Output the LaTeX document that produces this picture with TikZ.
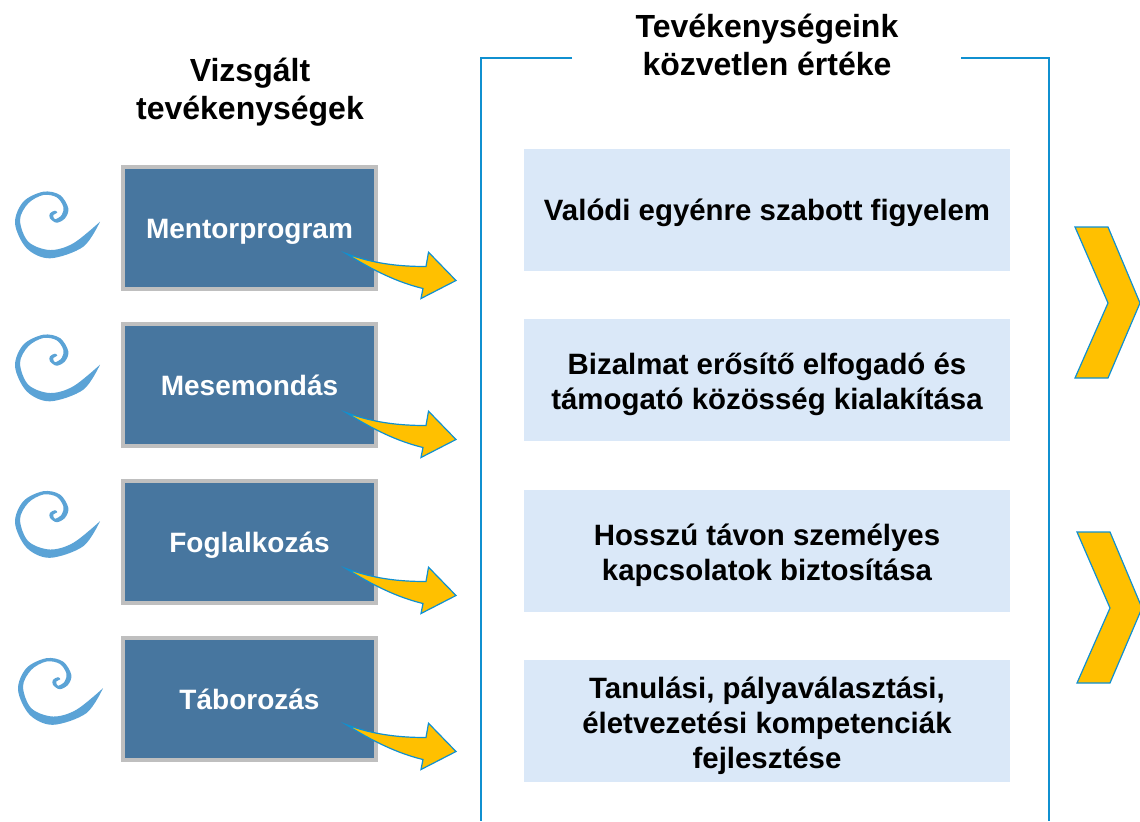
\documentclass[tikz,border=0pt]{standalone}
\usepackage{fontspec}
\setmainfont{Liberation Sans}
\usetikzlibrary{calc}

\definecolor{boxblue}{HTML}{47769F}
\definecolor{boxgray}{HTML}{BFBFBF}
\definecolor{panelblue}{HTML}{DAE8F8}
\definecolor{framecyan}{HTML}{1090D0}
\definecolor{swirlblue}{HTML}{5BA3D6}
\definecolor{arrowgold}{HTML}{FFC000}

\tikzset{
	activity/.style={rectangle, draw=boxgray, line width=2pt, fill=boxblue, text=white,
		minimum width=126.5pt, minimum height=61pt, text height=11pt, text depth=0.5pt,
		font=\fontsize{14}{17.5}\selectfont\bfseries},
	panel/.style={rectangle, fill=panelblue, text=black, align=center, minimum width=243pt,
		minimum height=61pt, text depth=0.5pt, font=\fontsize{14.7}{17.5}\selectfont\bfseries},
	heading/.style={align=center, font=\fontsize{16}{19}\selectfont\bfseries},
	swirl/.pic={
		\fill[swirlblue] plot[smooth, tension=0.55] coordinates {(0,-0.3) (-16.7,24.7) (-50,36.3)
			(-73.3,26.3) (-85,1.3) (-76.7,-20.3) (-56.7,-30.3) (-40,-27) (-31.7,-13.7) (-35,-3.7)
			(-43.3,0.7) (-50,-3.7) (-50,-8.7) (-45,-11.3) (-42.7,-9.3) (-46.7,-7) (-45,-2.7)
			(-38.3,-7) (-36.7,-15.3) (-43.3,-24.7) (-56.7,-27) (-71.7,-18.7) (-80,-2) (-71.7,19.7)
			(-50,28) (-26.7,21.3) (0,-0.3)} -- cycle;
	},
	bentarrow/.pic={
		\filldraw[draw=framecyan, fill=arrowgold, line width=0.6pt, line join=miter]
			(-32,-37) .. controls (-5,-27) and (20,-24) .. (48,-24) -- (50.5,-38.3) -- (78,-10)
			-- (43,8) -- (45,-2) .. controls (20,-8) and (-5,-20) .. (-32,-37) -- cycle;
	},
	chevronmark/.pic={
		\filldraw[draw=framecyan, fill=arrowgold, line width=0.6pt]
			(0,0) -- (33,0) -- (65,76) -- (33,151) -- (0,151) -- (33,76) -- cycle;
	}
}

\begin{document}
\begin{tikzpicture}[x=0.5pt,y=-0.5pt,node distance=78.5pt]
	\useasboundingbox (0,0) rectangle (1140,821);

	\node[heading] (H1) at (250,92) {Vizsgált\\tevékenységek};
	\node[heading] (H2) at (767,45) {Tevékenységeink\\közvetlen értéke};

	\node[activity] (M1) at (249.5,227.5) {Mentorprogram};
	\node[activity] (M2) [below of=M1] {Mesemondás};
	\node[activity] (M3) [below of=M2] {Foglalkozás};
	\node[activity] (M4) [below of=M3] {Táborozás};

	\node[panel, text height=11pt] (P1) at (767,210) {Valódi egyénre szabott figyelem};
	\node[panel, text height=29.8pt] (P2) at (767,380) {Bizalmat erősítő elfogadó és\\támogató közösség kialakítása};
	\node[panel, text height=29.8pt] (P3) at (767,551) {Hosszú távon személyes\\kapcsolatok biztosítása};
	\node[panel, text height=48.3pt] (P4) at (767,721) {Tanulási, pályaválasztási,\\életvezetési kompetenciák\\fejlesztése};

	% frame round the right column
	\coordinate (F1) at (572,58);
	\coordinate (F2) at (481,58);
	\coordinate (F3) at (481,821);
	\coordinate (F4) at (961,58);
	\coordinate (F5) at (1049,58);
	\coordinate (F6) at (1049,821);
	\draw[framecyan, line width=1.1pt] (F1) -- (F2) -- (F3);
	\draw[framecyan, line width=1.1pt] (F4) -- (F5) -- (F6);

	\pic at ($(M1.west)+(-21,-5.5)$) {swirl};
	\pic at ($(M2.west)+(-21,-19.5)$) {swirl};
	\pic at ($(M3.west)+(-21,-20)$) {swirl};
	\pic at ($(M4.west)+(-18,-10)$) {swirl};

	\pic at (M1.south east) {bentarrow};
	\pic at ($(M2.south east)+(0,2)$) {bentarrow};
	\pic at ($(M3.south east)+(0,1)$) {bentarrow};
	\pic at (M4.south east) {bentarrow};

	\pic at (1075,227) {chevronmark};
	\pic at (1077,532) {chevronmark};
\end{tikzpicture}
\end{document}
